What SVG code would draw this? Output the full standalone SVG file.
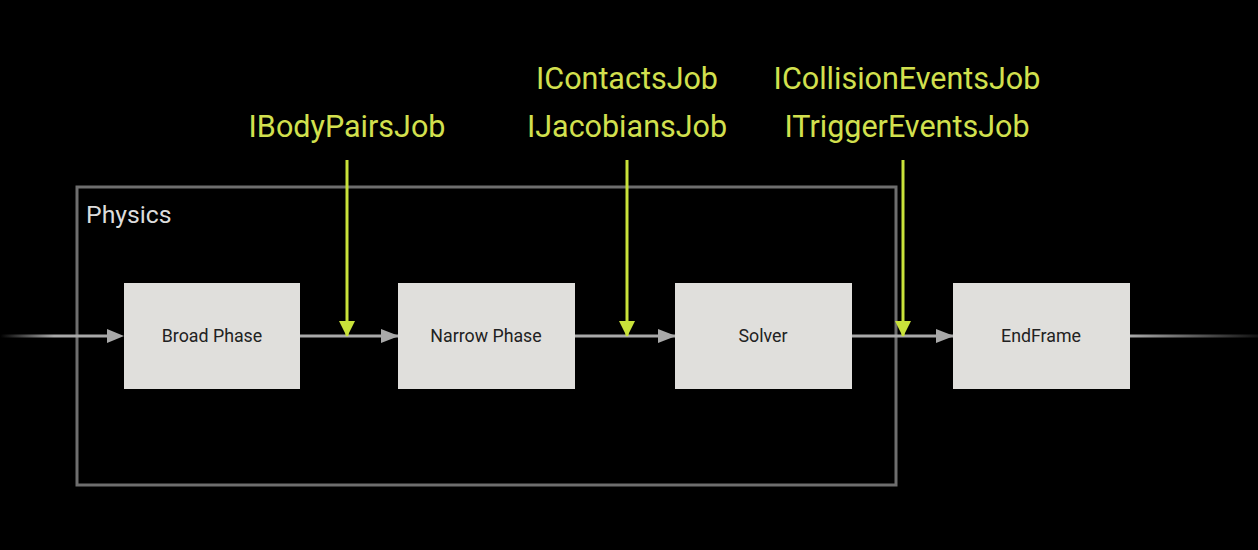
<svg xmlns="http://www.w3.org/2000/svg" width="1258" height="550" viewBox="0 0 1258 550">
<defs>
<style>
.node rect{fill:#e0dfdc;}
.node text{font-family:Roboto,"Liberation Sans",sans-serif;font-size:17.8px;fill:#222;text-anchor:middle;}
.job{font-family:Roboto,"Liberation Sans",sans-serif;font-size:30.5px;fill:#d2e04e;text-anchor:middle;}
.flow{stroke:#a9a9a9;stroke-width:3;fill:none;}
.hook{stroke:#c9e23a;stroke-width:3;fill:none;}
</style>
<linearGradient id="fadeIn" x1="0" y1="0" x2="1" y2="0">
<stop offset="0" stop-color="#a9a9a9" stop-opacity="0"/>
<stop offset="0.5" stop-color="#a9a9a9" stop-opacity="1"/>
</linearGradient>
<linearGradient id="fadeOut" x1="0" y1="0" x2="1" y2="0">
<stop offset="0" stop-color="#a9a9a9"/>
<stop offset="1" stop-color="#a9a9a9" stop-opacity="0.1"/>
</linearGradient>
<marker id="ah" markerWidth="18" markerHeight="14" refX="17" refY="7" orient="auto" markerUnits="userSpaceOnUse">
<path d="M0,0 L18,7 L0,14 Z" fill="#a9a9a9"/>
</marker>
<marker id="yh" markerWidth="16" markerHeight="16" refX="15" refY="8" orient="auto" markerUnits="userSpaceOnUse">
<path d="M0,0 L16,8 L0,16 Z" fill="#c9e23a"/>
</marker>
</defs>
<rect width="1258" height="550" fill="#000"/>
<g id="physics">
<rect x="77" y="187" width="819" height="298" fill="none" stroke="#6e6e6e" stroke-width="3"/>
<text x="86" y="223" font-family="Roboto,'Liberation Sans',sans-serif" font-size="24.8" fill="#dcdcdc">Physics</text>
</g>
<g id="connectors">
<rect x="0" y="334.5" width="108" height="3" fill="url(#fadeIn)"/>
<path d="M107,329 L124,336 L107,343 Z" fill="#a9a9a9"/>
<line class="flow" x1="300" y1="336" x2="398" y2="336" marker-end="url(#ah)"/>
<line class="flow" x1="575" y1="336" x2="675" y2="336" marker-end="url(#ah)"/>
<line class="flow" x1="852" y1="336" x2="953" y2="336" marker-end="url(#ah)"/>
<rect x="1130" y="334.5" width="128" height="3" fill="url(#fadeOut)"/>
<line class="hook" x1="347" y1="160" x2="347" y2="336" marker-end="url(#yh)"/>
<line class="hook" x1="627" y1="160" x2="627" y2="336" marker-end="url(#yh)"/>
<line class="hook" x1="903" y1="160" x2="903" y2="336" marker-end="url(#yh)"/>
</g>
<g id="broad" class="node"><rect x="124" y="283" width="176" height="106"/><text x="212" y="342">Broad Phase</text></g>
<g id="narrow" class="node"><rect x="398" y="283" width="177" height="106"/><text x="486" y="342">Narrow Phase</text></g>
<g id="solver" class="node"><rect x="675" y="283" width="177" height="106"/><text x="763" y="342">Solver</text></g>
<g id="endframe" class="node"><rect x="953" y="283" width="177" height="106"/><text x="1041" y="342">EndFrame</text></g>
<g id="labels">
<text class="job" x="347" y="137">IBodyPairsJob</text>
<text class="job" x="627" y="89">IContactsJob</text>
<text class="job" x="627" y="137">IJacobiansJob</text>
<text class="job" x="907" y="89">ICollisionEventsJob</text>
<text class="job" x="907" y="137">ITriggerEventsJob</text>
</g>
</svg>
